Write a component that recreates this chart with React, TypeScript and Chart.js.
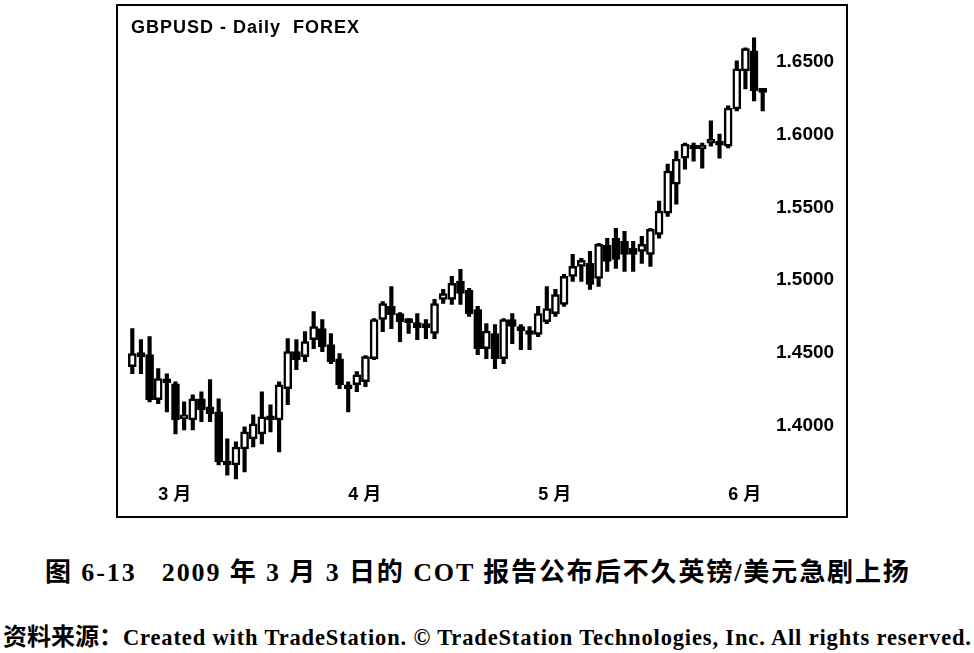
import { useEffect, useRef } from 'react';
import { Chart, registerables } from 'chart.js';

Chart.register(...registerables);

// GBPUSD daily bars, late Feb - early Jun 2009
const opens = [
  1.4406, 1.4489, 1.4489, 1.4179, 1.4310, 1.4289, 1.4048, 1.4041, 1.4186, 1.4131,
  1.4096, 1.3752, 1.3731, 1.3842, 1.3910, 1.3945, 1.4055, 1.4041, 1.4255, 1.4510,
  1.4475, 1.4592, 1.4668, 1.4558, 1.4461, 1.4262, 1.4282, 1.4303, 1.4461, 1.4730,
  1.4820, 1.4771, 1.4716, 1.4709, 1.4682, 1.4634, 1.4868, 1.4868, 1.4992, 1.4930,
  1.4799, 1.4530, 1.4634, 1.4461, 1.4730, 1.4668, 1.4641, 1.4627, 1.4716, 1.4771,
  1.4833, 1.5026, 1.5095, 1.5116, 1.5012, 1.5240, 1.5288, 1.5267, 1.5219, 1.5198,
  1.5178, 1.5315, 1.5460, 1.5660, 1.5839, 1.5921, 1.5901, 1.5942, 1.5956, 1.5921,
  1.6176, 1.6438, 1.6576, 1.6300,
];
const highs = [
  1.4668, 1.4592, 1.4613, 1.4393, 1.4358, 1.4303, 1.4165, 1.4213, 1.4234, 1.4317,
  1.4186, 1.3910, 1.3890, 1.3993, 1.4076, 1.4234, 1.4145, 1.4303, 1.4599, 1.4592,
  1.4647, 1.4785, 1.4730, 1.4634, 1.4496, 1.4303, 1.4372, 1.4482, 1.4737, 1.4854,
  1.4957, 1.4778, 1.4737, 1.4771, 1.4730, 1.4868, 1.4937, 1.5026, 1.5074, 1.4944,
  1.4820, 1.4702, 1.4696, 1.4737, 1.4771, 1.4696, 1.4682, 1.4820, 1.4957, 1.4937,
  1.5040, 1.5178, 1.5150, 1.5198, 1.5253, 1.5288, 1.5357, 1.5336, 1.5267, 1.5302,
  1.5357, 1.5543, 1.5798, 1.5887, 1.5942, 1.5942, 1.5942, 1.6094, 1.6004, 1.6197,
  1.6507, 1.6596, 1.6665, 1.6314,
];
const lows = [
  1.4358, 1.4358, 1.4165, 1.4152, 1.4096, 1.3945, 1.3972, 1.3972, 1.4028, 1.4028,
  1.3731, 1.3662, 1.3635, 1.3683, 1.3855, 1.3876, 1.3959, 1.3821, 1.4145, 1.4386,
  1.4441, 1.4530, 1.4510, 1.4427, 1.4255, 1.4096, 1.4234, 1.4269, 1.4455, 1.4647,
  1.4668, 1.4578, 1.4634, 1.4592, 1.4599, 1.4599, 1.4840, 1.4833, 1.4833, 1.4751,
  1.4489, 1.4461, 1.4393, 1.4427, 1.4565, 1.4523, 1.4523, 1.4613, 1.4702, 1.4751,
  1.4820, 1.4992, 1.4992, 1.4937, 1.4957, 1.5061, 1.5081, 1.5061, 1.5061, 1.5116,
  1.5095, 1.5288, 1.5439, 1.5522, 1.5763, 1.5818, 1.5770, 1.5921, 1.5839, 1.5908,
  1.6163, 1.6314, 1.6231, 1.6163,
];
const closes = [
  1.4496, 1.4475, 1.4179, 1.4324, 1.4296, 1.4041, 1.4062, 1.4186, 1.4110, 1.4083,
  1.3752, 1.3731, 1.3855, 1.3959, 1.4014, 1.4062, 1.4041, 1.4282, 1.4510, 1.4455,
  1.4578, 1.4682, 1.4544, 1.4441, 1.4282, 1.4255, 1.4351, 1.4475, 1.4730, 1.4840,
  1.4764, 1.4716, 1.4709, 1.4675, 1.4675, 1.4840, 1.4909, 1.4978, 1.4909, 1.4771,
  1.4530, 1.4650, 1.4461, 1.4730, 1.4682, 1.4654, 1.4627, 1.4771, 1.4806, 1.4902,
  1.5026, 1.5095, 1.5136, 1.4971, 1.5247, 1.5130, 1.5143, 1.5178, 1.5178, 1.5247,
  1.5350, 1.5474, 1.5749, 1.5832, 1.5935, 1.5901, 1.5915, 1.5970, 1.5928, 1.6183,
  1.6452, 1.6590, 1.6300, 1.6290,
];

// first bar of each month and its label
const monthStarts = [3, 25, 47, 69];
const monthNames = ['3 月', '4 月', '5 月', '6 月'];
const priceTicks = [1.4, 1.45, 1.5, 1.55, 1.6, 1.65];

function CandleChart() {
  const canvasRef = useRef<HTMLCanvasElement | null>(null);

  useEffect(() => {
    if (!canvasRef.current) return;
    const labels = opens.map((_, i) => String(i));
    const bodyFill = opens.map((o, i) => (closes[i] >= o ? '#ffffff' : '#000000'));

    const chart = new Chart(canvasRef.current, {
      type: 'bar',
      data: {
        labels,
        datasets: [
          {
            label: 'body',
            data: opens.map((o, i) => [o, closes[i]]),
            backgroundColor: bodyFill,
            borderColor: '#000',
            borderWidth: 2.5,
            borderSkipped: false,
            barThickness: 8,
            minBarLength: 4,
            grouped: false,
            order: 1,
          },
          {
            label: 'wick',
            data: lows.map((l, i) => [l, highs[i]]),
            backgroundColor: '#000',
            borderWidth: 0,
            barThickness: 3.5,
            grouped: false,
            order: 2,
          },
        ] as any,
      },
      options: {
        animation: false,
        responsive: true,
        maintainAspectRatio: false,
        layout: { padding: { left: 10, right: 9, top: 14, bottom: 0 } },
        plugins: { legend: { display: false }, tooltip: { enabled: false } },
        scales: {
          x: {
            type: 'category',
            offset: true,
            grid: { display: false, drawTicks: false },
            border: { display: false },
            ticks: {
              autoSkip: false,
              maxRotation: 0,
              align: 'start',
              padding: 4,
              color: '#000',
              font: { family: '"Liberation Sans", "Noto Sans CJK SC"', size: 18, weight: 'bold' },
              callback: (v: any) => monthNames[monthStarts.indexOf(Number(v))] ?? '',
            },
            afterBuildTicks: (s: any) => {
              s.ticks = monthStarts.map((v) => ({ value: v }));
            },
            afterFit: (s: any) => {
              s.height = 36;
            },
          },
          y: {
            position: 'right',
            min: 1.36281,
            max: 1.67431,
            grid: { display: false, drawTicks: false },
            border: { display: false },
            ticks: {
              padding: 9,
              color: '#000',
              font: { family: '"Liberation Sans", Arial', size: 19, weight: 'bold' },
              callback: (v: any) => Number(v).toFixed(4),
            },
            afterBuildTicks: (s: any) => {
              s.ticks = priceTicks.map((v) => ({ value: v }));
            },
            afterFit: (s: any) => {
              s.width = 70;
            },
          },
        },
      } as any,
    });

    return () => {
      chart.destroy();
    };
  }, []);

  return <canvas ref={canvasRef} />;
}

export default function App() {
  return (
    <div style={{ position: 'fixed', left: 0, top: 0, width: 974, height: 653, background: '#fff' }}>
      <div
        style={{
          position: 'absolute', left: 116, top: 4, width: 732, height: 514,
          border: '2px solid #000', boxSizing: 'border-box',
        }}
      />
      <div style={{ position: 'absolute', left: 118, top: 6, width: 728, height: 510 }}>
        <CandleChart />
      </div>
      <div
        style={{
          position: 'absolute', left: 131, top: 17, whiteSpace: 'pre', lineHeight: '20px',
          font: 'bold 18px "Liberation Sans", Arial', letterSpacing: 1, color: '#000',
        }}
      >
        GBPUSD - Daily  FOREX
      </div>
      <div
        style={{
          position: 'absolute', left: 45, top: 559, whiteSpace: 'pre', lineHeight: '28px',
          fontFamily: '"Liberation Serif", "Noto Sans CJK SC"', fontSize: 26, fontWeight: 'bold',
          letterSpacing: 1.9, color: '#000',
        }}
      >
        图 6-13   2009 年 3 月 3 日的 COT 报告公布后不久英镑/美元急剧上扬
      </div>
      <div
        style={{
          position: 'absolute', left: 3, top: 625, whiteSpace: 'pre', lineHeight: '24px',
          fontFamily: '"Liberation Serif", "Noto Sans CJK SC"', fontWeight: 'bold', color: '#000',
        }}
      >
        <span style={{ fontSize: 24 }}>资料来源：</span>
        <span style={{ fontSize: 22.5, letterSpacing: 0.85 }}>
          Created with TradeStation. © TradeStation Technologies, Inc. All rights reserved.
        </span>
      </div>
    </div>
  );
}
